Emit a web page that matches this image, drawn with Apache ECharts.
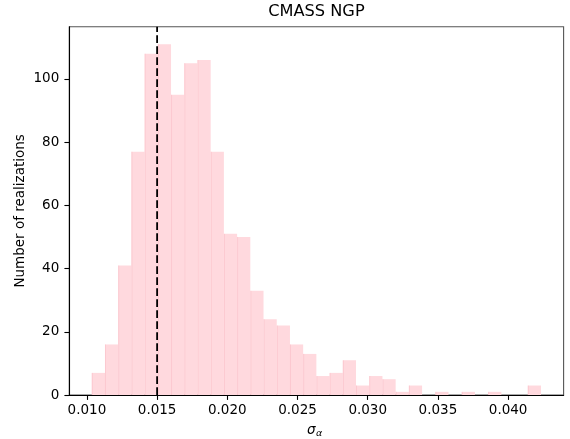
<!DOCTYPE html>
<html>
<head>
<meta charset="utf-8">
<script src="https://cdn.jsdelivr.net/npm/echarts@6/dist/echarts.min.js"></script>
<style>
  html, body { margin: 0; padding: 0; background: #ffffff; }
  #chart { width: 570px; height: 439px; }
</style>
</head>
<body>
<div id="chart"></div>
<script>
// Histogram of sigma_alpha over 1000 mock realizations (CMASS NGP)
const counts = [7, 16, 41, 77, 108, 111, 95, 105, 106, 77, 51, 50, 33, 24, 22, 16, 13,
                6, 7, 11, 3, 6, 5, 1, 3, 0, 1, 0, 1, 0, 1, 0, 0, 3];
const binStart = 0.010346;   // lower edge of the first bin
const binWidth = 0.000941;   // width of every bin
const dataSigma = 0.015;     // value marked with the dashed line
const xTicks = [0.010, 0.015, 0.020, 0.025, 0.030, 0.035, 0.040];
const yTicks = [0, 20, 40, 60, 80, 100];
const xRange = [0.008746, 0.04395];
const yRange = [0, 116.55];

const FONT = 'DejaVu Sans';
const TICK_FS = 13.5;

const bins = counts.map((c, i) => [binStart + i * binWidth, binStart + (i + 1) * binWidth, c]);

const chart = echarts.init(document.getElementById('chart'), null, { renderer: 'canvas' });

const grid = { left: 69.3, right: 6.4, top: 26.7, bottom: 44 };
const plotCenterX = grid.left + (570 - grid.left - grid.right) / 2;
const plotCenterY = grid.top + (439 - grid.top - grid.bottom) / 2;

chart.setOption({
  animation: false,
  backgroundColor: '#ffffff',
  grid: Object.assign({ show: true, borderColor: '#555555', borderWidth: 1.1, backgroundColor: 'transparent' }, grid),
  xAxis: {
    type: 'value',
    min: xRange[0],
    max: xRange[1],
    splitLine: { show: false },
    axisLine: { show: true, onZero: false, lineStyle: { color: '#000', width: 1.1 } },
    axisTick: { show: true, inside: false, length: 4.9, customValues: xTicks, lineStyle: { color: '#000', width: 1.1 } },
    axisLabel: {
      customValues: xTicks,
      margin: 8,
      color: '#000',
      fontFamily: FONT,
      fontSize: TICK_FS,
      formatter: v => v.toFixed(3)
    }
  },
  yAxis: {
    type: 'value',
    min: yRange[0],
    max: yRange[1],
    splitLine: { show: false },
    axisLine: { show: true, onZero: false, lineStyle: { color: '#000', width: 1.1 } },
    axisTick: { show: true, inside: false, length: 4.9, customValues: yTicks, lineStyle: { color: '#000', width: 1.1 } },
    axisLabel: {
      customValues: yTicks,
      margin: 10,
      color: '#000',
      fontFamily: FONT,
      fontSize: TICK_FS,
      formatter: v => String(v)
    }
  },
  series: [
    {
      type: 'custom',
      data: bins,
      encode: { x: [0, 1], y: 2 },
      z: 2,
      renderItem: function (params, api) {
        const top = api.coord([api.value(0), api.value(2)]);
        const bottom = api.coord([api.value(1), 0]);
        const x = top[0];
        const w = bottom[0] - top[0];
        const y = top[1];
        const h = bottom[1] - top[1];
        if (h <= 0) return null;
        return {
          type: 'group',
          children: [
            { type: 'rect', shape: { x: x, y: y, width: w, height: h }, style: { fill: '#ffd9de' } },
            { type: 'line', shape: { x1: x + 0.5, y1: y, x2: x + 0.5, y2: bottom[1] },
              style: { stroke: 'rgba(245,170,180,0.35)', lineWidth: 1 } }
          ]
        };
      }
    },
    {
      // vertical dashed reference line spanning the full plot height
      type: 'line',
      data: [[dataSigma, yRange[0]], [dataSigma, yRange[1]]],
      symbol: 'none',
      silent: true,
      z: 5,
      lineStyle: { color: '#000', width: 1.8, type: [7.7, 3.3] }
    }
  ],
  graphic: [
    {
      type: 'text', x: plotCenterX, y: 12,
      style: { text: 'CMASS NGP', fontFamily: FONT, fontSize: 16.2, fill: '#000', align: 'center', verticalAlign: 'middle' }
    },
    {
      type: 'text', x: 20, y: plotCenterY, rotation: Math.PI / 2,
      style: { text: 'Number of realizations', fontFamily: FONT, fontSize: TICK_FS, fill: '#000', align: 'center', verticalAlign: 'middle' }
    },
    {
      type: 'text', x: plotCenterX - 1, y: 430,
      style: { text: 'σ', fontFamily: FONT, fontStyle: 'italic', fontSize: TICK_FS, fill: '#000', align: 'right', verticalAlign: 'middle' }
    },
    {
      type: 'text', x: plotCenterX - 0.5, y: 434,
      style: { text: 'α', fontFamily: FONT, fontStyle: 'italic', fontSize: 9.5, fill: '#000', align: 'left', verticalAlign: 'middle' }
    }
  ]
});
</script>
</body>
</html>
